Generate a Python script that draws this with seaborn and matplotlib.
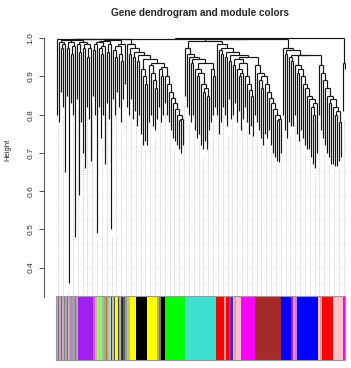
import numpy as np
import matplotlib
matplotlib.use("Agg")
import matplotlib.pyplot as plt
import seaborn as sns
from matplotlib.colors import ListedColormap
from matplotlib.collections import LineCollection

sns.set_style("white")
plt.rcParams['font.family'] = ['Liberation Sans', 'DejaVu Sans']

# ---------------- data ----------------
# leaf tip heights, left to right, grouped by dendrogram region
tips_A = [0.80, 0.78, 0.86, 0.82, 0.65, 0.85, 0.36, 0.83, 0.80, 0.48, 0.84, 0.59,
          0.78, 0.70, 0.66, 0.82, 0.79, 0.68, 0.85, 0.80, 0.49, 0.82, 0.74, 0.80,
          0.67, 0.83, 0.79, 0.50, 0.84, 0.80, 0.86, 0.82, 0.78, 0.84, 0.88]
tips_B = [0.82, 0.80, 0.84, 0.79, 0.81, 0.77, 0.80, 0.75, 0.72, 0.73, 0.72, 0.78,
          0.80, 0.77, 0.76, 0.79, 0.82, 0.78, 0.80, 0.83, 0.80, 0.78, 0.76, 0.74,
          0.73, 0.72, 0.71, 0.70, 0.72]
tips_C = [0.85, 0.82, 0.80, 0.78, 0.80, 0.76, 0.74, 0.75, 0.72, 0.71, 0.73, 0.71,
          0.76, 0.78, 0.80, 0.82]
tips_D = [0.80, 0.75, 0.78, 0.82, 0.80, 0.77, 0.84, 0.79, 0.80, 0.83, 0.78, 0.81,
          0.76, 0.79, 0.82, 0.78, 0.75, 0.77, 0.745, 0.80, 0.78, 0.76, 0.74, 0.72,
          0.75, 0.74, 0.76, 0.72, 0.70, 0.69, 0.68, 0.675, 0.70]
tips_E = [0.80, 0.76, 0.74, 0.78, 0.77, 0.77, 0.80, 0.75, 0.73, 0.76, 0.74, 0.72,
          0.71, 0.71, 0.69, 0.67, 0.66, 0.70, 0.80, 0.76, 0.74, 0.72, 0.70, 0.69,
          0.67, 0.67, 0.665, 0.665, 0.68, 0.69]
tips_F = [0.81, 0.92]

# merge heights between neighbouring leaves inside each region
gaps_A = [0.9975, 0.99, 0.975, 0.985, 0.995, 0.975, 0.99, 0.96, 0.98, 0.996,
          0.985, 0.965, 0.99, 0.975, 0.985, 0.95, 0.975, 0.997, 0.97, 0.985,
          0.99, 0.975, 0.96, 0.98, 0.993, 0.965, 0.985, 0.995, 0.97, 0.95,
          0.98, 0.96, 0.94, 0.985]
gaps_B = [0.985, 0.96, 0.975, 0.95, 0.965, 0.94, 0.955, 0.92, 0.90, 0.88,
          0.945, 0.93, 0.91, 0.89, 0.87, 0.935, 0.92, 0.90, 0.925, 0.90,
          0.88, 0.86, 0.845, 0.83, 0.815, 0.80, 0.785, 0.79]
gaps_C = [0.975, 0.96, 0.95, 0.935, 0.945, 0.92, 0.90, 0.91, 0.88, 0.86,
          0.87, 0.85, 0.935, 0.92, 0.90]
gaps_D = [0.985, 0.97, 0.96, 0.975, 0.95, 0.965, 0.94, 0.955, 0.93, 0.945,
          0.92, 0.90, 0.91, 0.935, 0.90, 0.88, 0.865, 0.85, 0.95, 0.93,
          0.91, 0.89, 0.87, 0.90, 0.88, 0.86, 0.845, 0.83, 0.815, 0.80,
          0.785, 0.79]
gaps_E = [0.975, 0.96, 0.97, 0.95, 0.94, 0.955, 0.93, 0.91, 0.92, 0.90,
          0.88, 0.87, 0.85, 0.84, 0.82, 0.80, 0.83, 0.955, 0.93, 0.91,
          0.89, 0.87, 0.85, 0.83, 0.84, 0.82, 0.80, 0.81, 0.78]
gaps_F = [0.935]
# merge heights joining consecutive regions A|B, B|C, C|D, D|E, E|F
region_joins = [0.998, 0.999, 0.994, 0.997, 0.9995]

# module colour strip: colours and widths (left to right)
module_colors = ['#c6a9c3', '#7a6a78', '#c6a9c3', '#6b6b6b', '#c6a9c3', '#808080',
                 '#b0a0b0', '#5a8a5a', '#c6a9c3', '#999999', '#a89bb0', '#708070',
                 '#b0b0a0', '#a020f0', '#dd55dd', '#c8a8c8', '#adff2f', '#ff9fbf',
                 '#90ee90', '#a0c0a0', '#7fbf7f', '#d2691e', '#b0b0b0', '#a8d8d8',
                 '#2f4f2f', '#c0c0a0', '#505050', '#ffff00', '#404040', '#b0b0b0',
                 '#006400', '#203020', '#606060', '#90a090', '#c0c080', '#ffff00',
                 '#000000', '#ffff00', '#b8b060', '#808060', '#000000', '#00ff00',
                 '#40e0d0', '#a52a2a', '#ff0000', '#d8a0a0', '#ff0000', '#a020f0',
                 '#3030a0', '#ffc0cb', '#d8a0c0', '#ffc0cb', '#ff00ff', '#a52a2a',
                 '#0000ff', '#a020f0', '#ff88cc', '#c080e0', '#0000ff', '#ffc0cb',
                 '#d0a0a0', '#ff0000', '#ffc0cb', '#ff00ff']
module_widths = [2, 1, 2, 1, 2, 1,
                 2, 1, 2, 2, 3, 1,
                 2, 15, 2, 2, 2, 1,
                 2, 2, 2, 1, 2, 2,
                 1, 2, 1, 3, 1, 2,
                 1, 1, 2, 2, 3, 6,
                 11, 10, 2, 2, 4, 20,
                 31, 1, 7, 2, 3, 2,
                 2, 1, 2, 5, 14, 26,
                 10, 2, 2, 2, 21, 2,
                 2, 11, 10, 2]

y_ticks = [0.4, 0.5, 0.6, 0.7, 0.8, 0.9, 1.0]
title_text = "Gene dendrogram and module colors"
ylabel_text = "Height"

# ---------------- assemble ----------------
tip_groups = [tips_A, tips_B, tips_C, tips_D, tips_E, tips_F]
gap_groups = [gaps_A, gaps_B, gaps_C, gaps_D, gaps_E, gaps_F]
leaf_tips = []
merge_heights = []
for gi, (t, g) in enumerate(zip(tip_groups, gap_groups)):
    leaf_tips += t
    merge_heights += g
    if gi < len(region_joins):
        merge_heights.append(region_joins[gi])
leaf_tips = np.array(leaf_tips)
merge_heights = np.array(merge_heights)
N = len(leaf_tips)

segments = []


def build(lo, hi):
    if lo == hi:
        return float(lo), leaf_tips[lo]
    k = lo + int(np.argmax(merge_heights[lo:hi]))
    xl, hl = build(lo, k)
    xr, hr = build(k + 1, hi)
    h = merge_heights[k]
    segments.append([(xl, hl), (xl, h)])
    segments.append([(xr, hr), (xr, h)])
    segments.append([(xl, h), (xr, h)])
    return (xl + xr) / 2.0, h


build(0, N - 1)

# ---------------- figure ----------------
W, H = 351, 368
fig = plt.figure(figsize=(W / 100, H / 100), dpi=100)

y_top, y_bot = 1.0217, 0.3228
ax = fig.add_axes([44 / W, 1 - 297 / H, 302 / W, (297 - 30) / H])
ax.set_xlim(-6.5, N - 0.5)
ax.set_ylim(y_bot, y_top)

# dotted guide lines
n_guides = 60
guide_x = (np.arange(n_guides) + 0.5) * N / n_guides - 0.5
guide_top = leaf_tips[np.clip(np.round(guide_x).astype(int), 0, N - 1)] - 0.02
ax.vlines(guide_x, y_bot, guide_top, colors='#bdbdbd', linestyles=(0, (1, 1.3)),
          linewidth=0.6, zorder=1)

lc = LineCollection(segments, colors='#151515', linewidths=0.85, zorder=2)
ax.add_collection(lc)

for s in ['top', 'right', 'bottom']:
    ax.spines[s].set_visible(False)
ax.spines['left'].set_bounds(y_bot, 1.0)
ax.spines['left'].set_linewidth(0.6)
ax.spines['left'].set_color('#333333')
ax.set_xticks([])
ax.set_yticks(y_ticks)
ax.set_yticklabels([f"{v:.1f}" for v in y_ticks], rotation=90, va='center')
ax.tick_params(axis='y', length=3.6, width=0.6, labelsize=6, pad=3, colors='#333333',
               left=True)
ax.yaxis.set_ticks_position('left')

# module colour strip via seaborn heatmap
cax = fig.add_axes([56 / W, 1 - 360 / H, 289 / W, 64 / H])
strip = np.repeat(np.arange(len(module_colors)), module_widths)[None, :]
sns.heatmap(strip, cmap=ListedColormap(module_colors), vmin=-0.5,
            vmax=len(module_colors) - 0.5, cbar=False, xticklabels=False,
            yticklabels=False, ax=cax)
for s in cax.spines.values():
    s.set_visible(True)
    s.set_color('#999999')
    s.set_linewidth(0.8)

fig.text(200 / W, 1 - 13 / H, title_text, ha='center', va='center',
         fontsize=7.2, fontweight='bold')
fig.text(8 / W, 1 - 150 / H, ylabel_text, ha='center', va='center',
         rotation=90, fontsize=5.5)

fig.savefig("out.png", dpi=100)
